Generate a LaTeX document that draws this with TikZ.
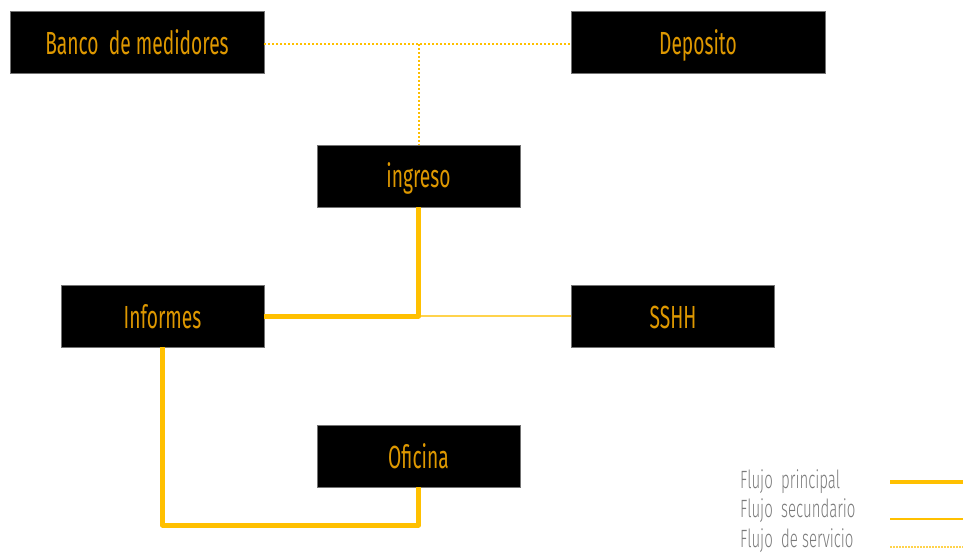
\documentclass[tikz,border=0pt]{standalone}
\usepackage{fontspec}
\setmainfont[FakeStretch=0.6]{Fira Sans}
\newfontfamily\legfont[FakeStretch=0.6]{Fira Sans Light}
\definecolor{gold}{HTML}{FFC000}
\definecolor{txtor}{HTML}{DE9800}
\definecolor{leggray}{HTML}{7A7A7A}
\tikzset{
  box/.style={fill=black, draw=black!55, line width=0.8pt, minimum height=62pt, inner sep=0pt,
    text=txtor, font=\fontsize{32}{34}\selectfont, text height=30pt, text depth=6pt},
  wide/.style={box, minimum width=254pt},
  narrow/.style={box, minimum width=203pt},
  mainflow/.style={draw=gold, line width=5pt, line join=round},
  secflow/.style={draw=gold!70, line width=2pt},
  servflow/.style={draw=gold, line width=2pt, dash pattern=on 2pt off 2pt},
  legtext/.style={anchor=west, text=leggray, font=\legfont\fontsize{25}{26}\selectfont, inner sep=0pt}
}
\begin{document}
\begin{tikzpicture}[x=1pt, y=-1pt]
\useasboundingbox (0,0) rectangle (963,556);
\node[wide] (banco) at (137,42.5) {Banco\ \ de medidores};
\node[wide] (deposito) at (698,42.5) {Deposito};
\node[narrow] (ingreso) at (418.5,176) {ingreso};
\node[narrow] (informes) at (162.5,316) {Informes};
\node[narrow] (sshh) at (673,316) {SSHH};
\node[narrow] (oficina) at (418.5,456) {Oficina};
% service flow
\coordinate (j1) at (418.5,44);
\draw[servflow] (banco.east |- j1) -- (deposito.west |- j1);
\draw[servflow] (j1) -- (ingreso.north);
% main and secondary flow
\coordinate (j2) at (418.5,316);
\draw[secflow] (j2) -- (sshh.west);
\draw[mainflow] (ingreso.south) -- (j2) -- (informes.east);
\coordinate (c1) at (162.5,525);
\draw[mainflow] (informes.south) -- (c1) -- (oficina.south |- c1) -- (oficina.south);
% legend
\node[legtext] (l1) at (740,482) {Flujo\ \ principal};
\node[legtext] (l2) at (740,511) {Flujo\ \ secundario};
\node[legtext] (l3) at (740,541) {Flujo\ \ de servicio};
\coordinate (a1) at (890,482); \coordinate (b1) at (963,482);
\coordinate (a2) at (890,519); \coordinate (b2) at (963,519);
\coordinate (a3) at (890,547); \coordinate (b3) at (963,547);
\draw[draw=gold, line width=4.5pt] (a1) -- (b1);
\draw[draw=gold, line width=2pt] (a2) -- (b2);
\draw[draw=gold!70, line width=1.5pt, dash pattern=on 1.5pt off 1.5pt] (a3) -- (b3);
\end{tikzpicture}
\end{document}
